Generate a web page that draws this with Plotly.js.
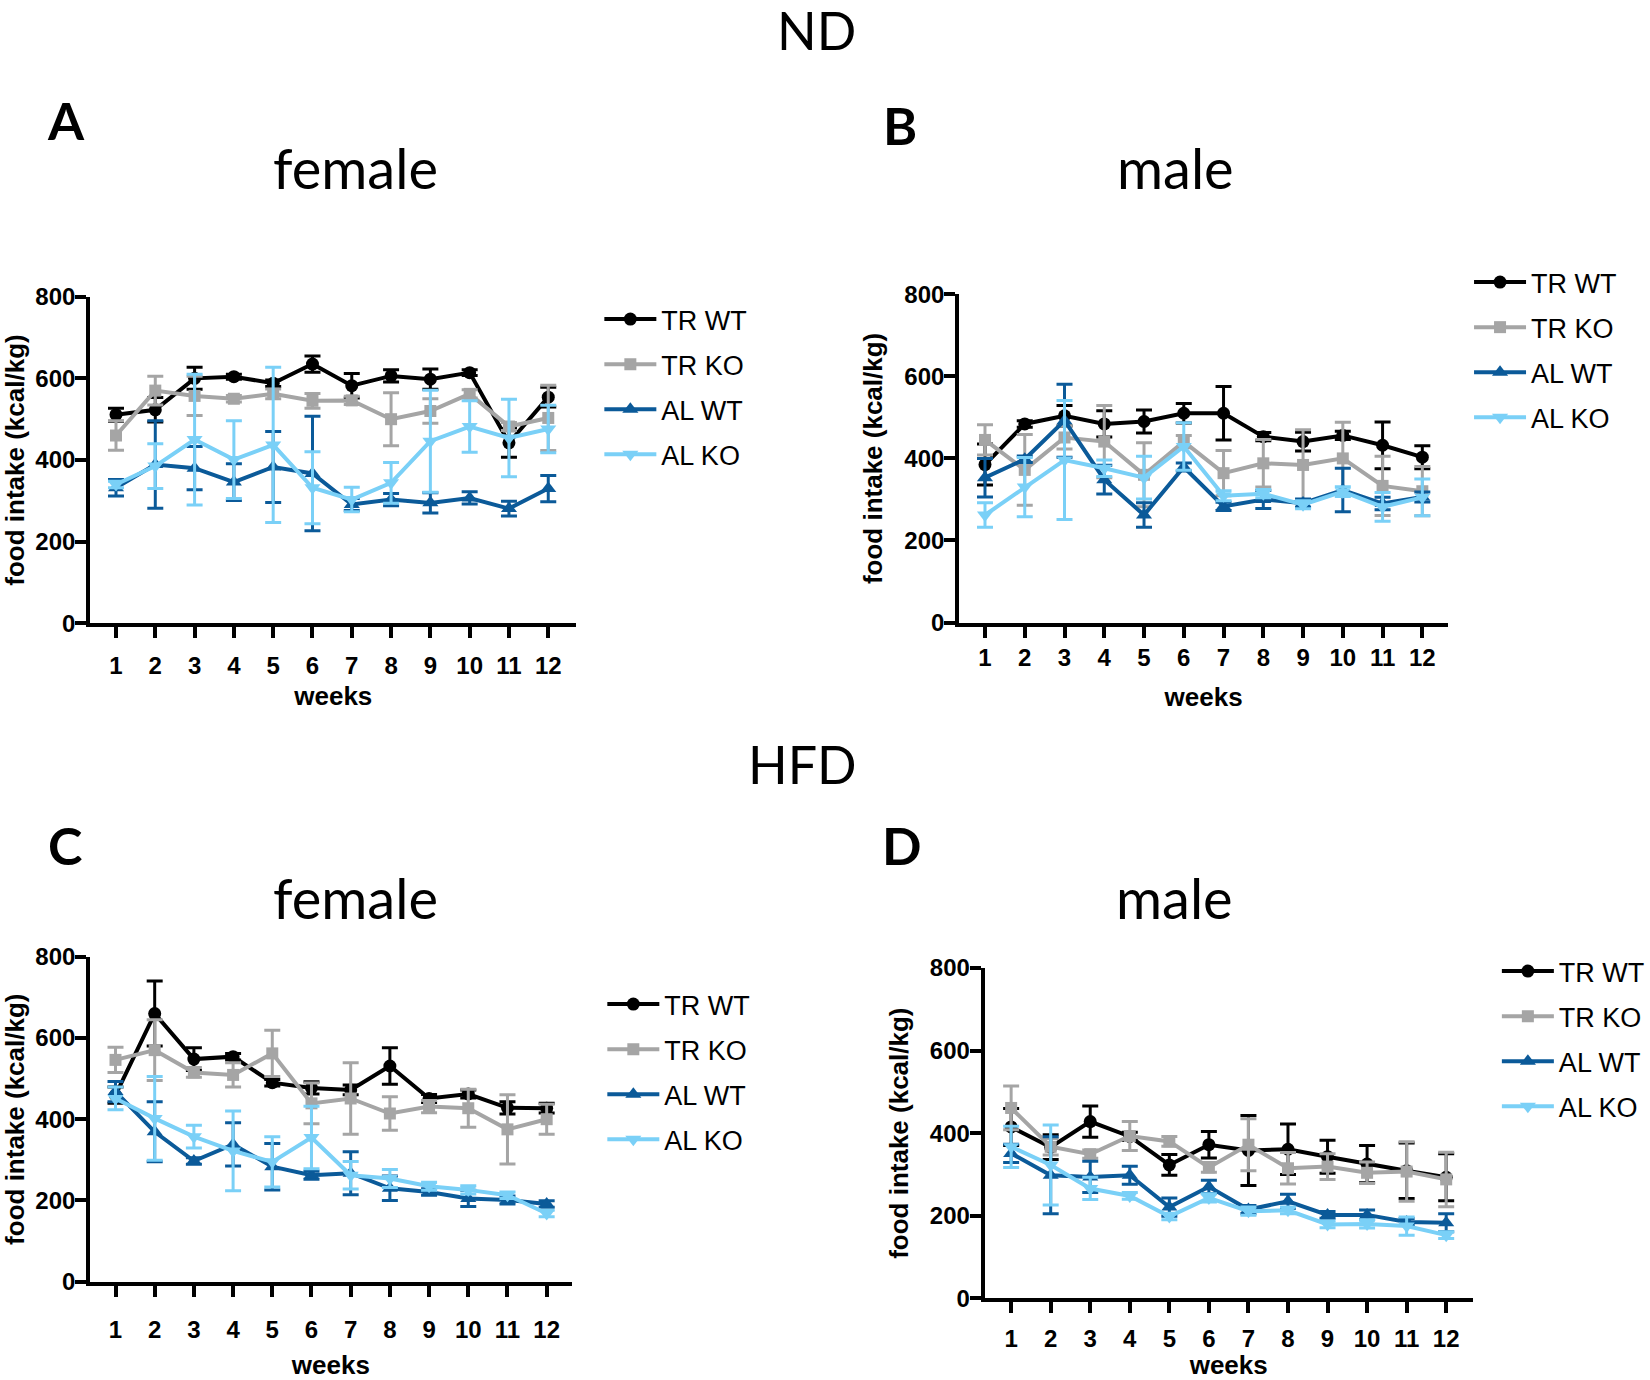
<!DOCTYPE html>
<html>
<head>
<meta charset="utf-8">
<script src="https://cdn.plot.ly/plotly-3.0.1.min.js"></script>
<style>html,body{margin:0;padding:0;background:#fff;}#chart{width:1650px;height:1380px;}</style>
</head>
<body>
<div id="chart"></div>
<script>
// ---------- data ----------
const weeks = [1,2,3,4,5,6,7,8,9,10,11,12];
const seriesNames = ["TR WT", "TR KO", "AL WT", "AL KO"];

// Panel A: ND female
const A_TRWT = [511, 523, 600, 604, 588, 635, 582, 606, 598, 614, 442, 554];
const A_TRWT_err = [16, 30, 27, 6, 8, 20, 30, 15, 25, 7, 35, 24];
const A_TRKO = [460, 570, 557, 550, 562, 545, 546, 500, 520, 562, 482, 503];
const A_TRKO_err = [36, 35, 48, 8, 12, 18, 10, 65, 30, 10, 10, 80];
const A_ALWT = [332, 389, 380, 346, 383, 367, 291, 303, 295, 307, 281, 330];
const A_ALWT_err = [20, 107, 53, 45, 87, 140, 15, 15, 25, 15, 18, 32];
const A_ALKO = [340, 385, 450, 401, 437, 332, 303, 344, 446, 482, 454, 476];
const A_ALKO_err = [8, 55, 160, 95, 190, 88, 30, 50, 125, 63, 95, 58];

// Panel B: ND male
const B_TRWT = [385, 484, 504, 484, 490, 510, 510, 453, 441, 456, 432, 403];
const B_TRWT_err = [50, 8, 25, 32, 28, 24, 65, 10, 23, 10, 57, 28];
const B_TRKO = [445, 372, 451, 441, 360, 441, 364, 388, 384, 400, 333, 320];
const B_TRKO_err = [37, 86, 28, 88, 78, 15, 55, 58, 86, 88, 72, 60];
const B_ALWT = [353, 398, 492, 348, 262, 379, 283, 300, 291, 323, 290, 306];
const B_ALWT_err = [47, 8, 89, 35, 30, 10, 10, 22, 10, 53, 15, 12];
const B_ALKO = [262, 330, 396, 376, 353, 429, 309, 314, 287, 319, 282, 305];
const B_ALKO_err = [30, 72, 145, 20, 52, 58, 12, 10, 10, 12, 35, 45];

// Panel C: HFD female
const C_TRWT = [459, 660, 548, 554, 490, 477, 472, 531, 451, 462, 428, 427];
const C_TRWT_err = [20, 80, 28, 8, 8, 15, 12, 45, 10, 10, 15, 12];
const C_TRKO = [546, 570, 515, 509, 562, 439, 451, 414, 431, 427, 375, 400];
const C_TRKO_err = [31, 75, 12, 30, 57, 50, 88, 41, 15, 47, 85, 37];
const C_ALWT = [468, 369, 297, 338, 283, 262, 267, 230, 221, 205, 201, 191];
const C_ALWT_err = [25, 74, 8, 53, 57, 10, 53, 30, 8, 20, 10, 8];
const C_ALKO = [451, 402, 357, 322, 295, 355, 262, 254, 235, 226, 213, 168];
const C_ALKO_err = [28, 103, 28, 98, 62, 77, 34, 22, 10, 10, 8, 8];

// Panel D: HFD male
const D_TRWT = [415, 366, 428, 392, 323, 372, 358, 361, 343, 325, 309, 293];
const D_TRWT_err = [45, 30, 38, 10, 25, 32, 85, 61, 40, 45, 67, 57];
const D_TRKO = [461, 367, 349, 393, 380, 317, 372, 315, 319, 304, 307, 288];
const D_TRKO_err = [53, 20, 10, 35, 12, 12, 63, 38, 31, 26, 72, 66];
const D_ALWT = [351, 298, 294, 298, 221, 270, 215, 235, 202, 202, 185, 183];
const D_ALWT_err = [22, 93, 38, 22, 22, 16, 10, 17, 8, 12, 8, 22];
const D_ALKO = [367, 323, 266, 248, 198, 243, 211, 213, 179, 180, 175, 153];
const D_ALKO_err = [50, 97, 27, 8, 8, 10, 10, 8, 8, 10, 22, 8];

const yTicks = [0, 200, 400, 600, 800];
const yTitle = "food intake (kcal/kg)";
const xTitle = "weeks";

// ---------- styling ----------
const W = 1650, H = 1380;
const colors = ["#000000", "#a5a5a5", "#0b5a99", "#7ad0f7"];
const symbols = ["circle", "square", "triangle-up", "triangle-down"];
const mSizes = [13, 12, 14, 14];
const tickFamily = "Liberation Sans, Arial, sans-serif";
const titleFamily = "Lato, Carlito, sans-serif";

const panels = [
  {key:"A", data:[[A_TRWT,A_TRWT_err],[A_TRKO,A_TRKO_err],[A_ALWT,A_ALWT_err],[A_ALKO,A_ALKO_err]],
   ax:{L:90.7, t1:116.7, t12:551.6, R:580, B:623.3, T:296.7}, tickStand:7, xTitleStand:10, legend:{x:603, y:295}},
  {key:"B", data:[[B_TRWT,B_TRWT_err],[B_TRKO,B_TRKO_err],[B_ALWT,B_ALWT_err],[B_ALKO,B_ALKO_err]],
   ax:{L:965, t1:991, t12:1431, R:1457, B:622.5, T:294.3}, tickStand:0, xTitleStand:19, legend:{x:1478, y:258}},
  {key:"C", data:[[C_TRWT,C_TRWT_err],[C_TRKO,C_TRKO_err],[C_ALWT,C_ALWT_err],[C_ALKO,C_ALKO_err]],
   ax:{L:90.7, t1:116.2, t12:550, R:575, B:1281.7, T:956.7}, tickStand:12, xTitleStand:31, legend:{x:606, y:980}},
  {key:"D", data:[[D_TRWT,D_TRWT_err],[D_TRKO,D_TRKO_err],[D_ALWT,D_ALWT_err],[D_ALKO,D_ALKO_err]],
   ax:{L:990.7, t1:1017.3, t12:1455, R:1481.7, B:1298.3, T:968}, tickStand:5, xTitleStand:19, legend:{x:1506, y:947}}
];

const traces = [];
const layout = {
  width: W, height: H,
  margin: {l:0, r:0, t:0, b:0},
  paper_bgcolor: "#ffffff", plot_bgcolor: "#ffffff",
  showlegend: true,
  annotations: []
};

panels.forEach((p, i) => {
  const n = i + 1;
  const xa = n === 1 ? "xaxis" : "xaxis" + n;
  const ya = n === 1 ? "yaxis" : "yaxis" + n;
  const xr = n === 1 ? "x" : "x" + n;
  const yr = n === 1 ? "y" : "y" + n;
  const lg = n === 1 ? "legend" : "legend" + n;
  const a = p.ax;
  const sp = (a.t12 - a.t1) / 11;
  const left = 1 - (a.t1 - a.L) / sp;
  const right = 12 + (a.R - a.t12) / sp;

  p.data.forEach((d, s) => {
    traces.push({
      type: "scatter", mode: "lines+markers",
      x: weeks, y: d[0], name: seriesNames[s],
      xaxis: xr, yaxis: yr, legend: lg,
      legendgroup: p.key + s,
      line: {color: colors[s], width: 4},
      marker: {color: colors[s], symbol: symbols[s], size: mSizes[s]},
      error_y: {type: "data", array: d[1], visible: true, color: colors[s], thickness: 3, width: 8},
      cliponaxis: false
    });
  });

  layout[xa] = {
    domain: [a.L / W, a.R / W], range: [left, right], anchor: yr,
    tickvals: weeks, ticktext: weeks.map(String),
    showline: true, linecolor: "#000", linewidth: 4, mirror: false,
    ticks: "outside", ticklen: 11, tickwidth: 4, tickcolor: "#000",
    showgrid: false, zeroline: false, fixedrange: true,
    tickfont: {family: tickFamily, size: 24, color: "#000", weight: 700},
    ticklabelstandoff: p.tickStand,
    title: {text: xTitle, standoff: p.xTitleStand, font: {family: tickFamily, size: 26, color: "#000", weight: 700}}
  };
  layout[ya] = {
    domain: [1 - a.B / H, 1 - a.T / H], range: [0, 800], anchor: xr,
    tickvals: yTicks,
    showline: true, linecolor: "#000", linewidth: 4,
    ticks: "outside", ticklen: 11, tickwidth: 4, tickcolor: "#000",
    showgrid: false, zeroline: false, fixedrange: true,
    tickfont: {family: tickFamily, size: 24, color: "#000", weight: 700},
    ticklabelstandoff: -5,
    title: {text: yTitle, standoff: 15, font: {family: tickFamily, size: 26, color: "#000", weight: 700}}
  };
  layout[lg] = {
    x: p.legend.x / W, y: 1 - p.legend.y / H, xanchor: "left", yanchor: "top",
    xref: "paper", yref: "paper",
    bgcolor: "rgba(0,0,0,0)", borderwidth: 0,
    font: {family: tickFamily, size: 27, color: "#000"},
    traceorder: "grouped", tracegroupgap: 7, itemwidth: 52
  };
});

// panel titles and letters
const headTexts = [
  {t:"ND", x:821, y:30, s:52, b:false},
  {t:"A", x:66, y:120, s:52, b:true},
  {t:"B", x:905, y:125, s:52, b:true},
  {t:"female", x:358, y:168, s:56, b:false},
  {t:"male", x:1183, y:168, s:56, b:false},
  {t:"HFD", x:807, y:764, s:52, b:false},
  {t:"C", x:65, y:845, s:52, b:true},
  {t:"D", x:907, y:845, s:52, b:true},
  {t:"female", x:358, y:897, s:56, b:false},
  {t:"male", x:1182, y:897, s:56, b:false}
];
headTexts.forEach(h => {
  layout.annotations.push({
    text: h.t, xref: "paper", yref: "paper", x: h.x / W, y: 1 - h.y / H,
    xanchor: "center", yanchor: "middle", showarrow: false,
    font: {family: titleFamily, size: h.s, color: "#000", weight: h.b ? 700 : 400}
  });
});

Plotly.newPlot("chart", traces, layout, {staticPlot: true, displayModeBar: false});
</script>
</body>
</html>
